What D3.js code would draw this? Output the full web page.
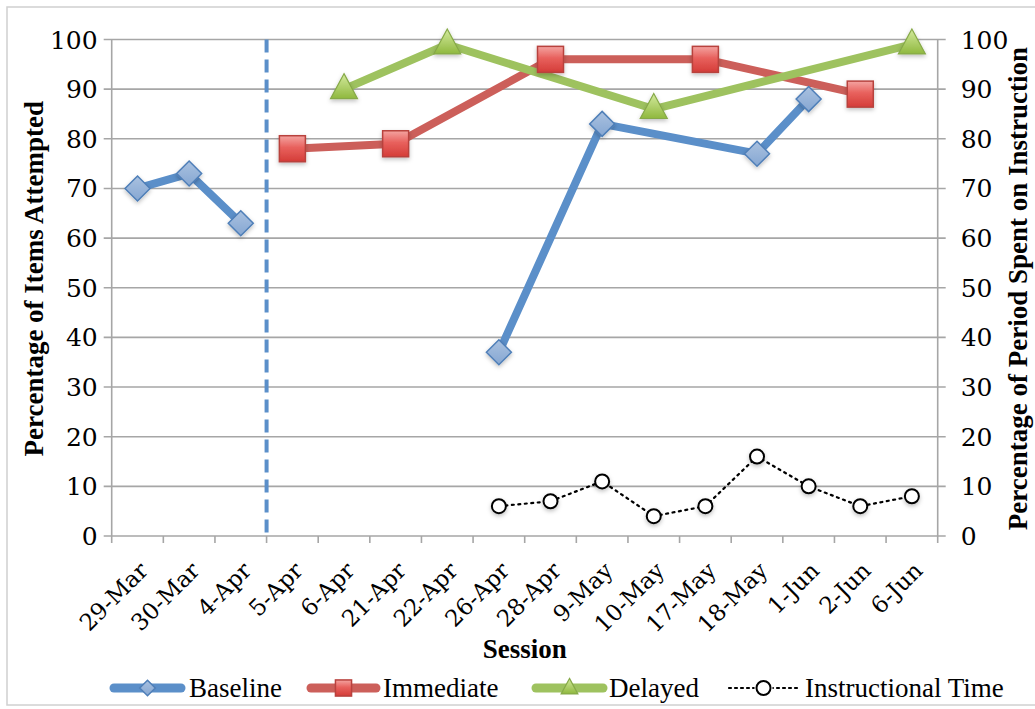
<!DOCTYPE html>
<html><head><meta charset="utf-8">
<script src="https://cdn.jsdelivr.net/npm/d3@7"></script>
<style>
html,body{margin:0;padding:0;background:#fff;}
svg{display:block;}
</style></head>
<body>
<svg id="chart" width="1035" height="709"></svg>
<script>
const categories = ["29-Mar","30-Mar","4-Apr","5-Apr","6-Apr","21-Apr","22-Apr","26-Apr","28-Apr","9-May","10-May","17-May","18-May","1-Jun","2-Jun","6-Jun"];
const baseline      = [70, 73, 63, null, null, null, null, 37, null, 83, null, null, 77, 88, null, null];
const immediate     = [null, null, null, 78, null, 79, null, null, 96, null, null, 96, null, null, 89, null];
const delayed       = [null, null, null, null, 90, null, 99, null, null, null, 86, null, null, null, null, 99];
const instructional = [null, null, null, null, null, null, null, 6, 7, 11, 4, 6, 16, 10, 6, 8];
const phaseBreakAfter = "4-Apr";
const yTicks = [0,10,20,30,40,50,60,70,80,90,100];
const seriesNames = ["Baseline","Immediate","Delayed","Instructional Time"];

const svg = d3.select("#chart");
const L = 111.7, R = 937.7, T = 39.5, B = 536;
const x = d3.scaleBand().domain(categories).range([L, R]).padding(0);
const y = d3.scaleLinear().domain([0,100]).range([B, T]);
const y2 = d3.scaleLinear().domain([0,100]).range([B, T]);
const cx = c => x(c) + x.bandwidth()/2;
const grid = "#a6a6a6";
const serif = "'Liberation Serif', 'DejaVu Serif', serif";
const numFont = "'DejaVu Serif', serif";

// defs
const defs = svg.append("defs");
const gRed = defs.append("linearGradient").attr("id","gRed").attr("x1",0).attr("y1",0).attr("x2",0).attr("y2",1);
gRed.append("stop").attr("offset","0%").attr("stop-color","#f4a4a1");
gRed.append("stop").attr("offset","45%").attr("stop-color","#e8615d");
gRed.append("stop").attr("offset","100%").attr("stop-color","#d43c38");
const gGreen = defs.append("linearGradient").attr("id","gGreen").attr("x1",0).attr("y1",0).attr("x2",0).attr("y2",1);
gGreen.append("stop").attr("offset","0%").attr("stop-color","#d4ea9e");
gGreen.append("stop").attr("offset","100%").attr("stop-color","#8fb83e");
const gBlue = defs.append("linearGradient").attr("id","gBlue").attr("x1",0).attr("y1",0).attr("x2",0).attr("y2",1);
gBlue.append("stop").attr("offset","0%").attr("stop-color","#a9c1e0");
gBlue.append("stop").attr("offset","100%").attr("stop-color","#86a7d2");
const sh = defs.append("filter").attr("id","shadow").attr("x","-50%").attr("y","-50%").attr("width","200%").attr("height","200%");
sh.append("feDropShadow").attr("dx",0).attr("dy",2).attr("stdDeviation",2).attr("flood-color","#000").attr("flood-opacity",0.25);

// frame
svg.append("rect").attr("x",7).attr("y",7).attr("width",1040).attr("height",698)
  .attr("fill","none").attr("stroke","#d0d0d0").attr("stroke-width",1.5);

// gridlines
svg.append("g").selectAll("line").data(yTicks).join("line")
  .attr("x1", L-8).attr("x2", R+8).attr("y1", d=>y(d)).attr("y2", d=>y(d))
  .attr("stroke", grid).attr("stroke-width", 1.6);

// axes lines
svg.append("line").attr("x1",L).attr("x2",L).attr("y1",T).attr("y2",B).attr("stroke",grid).attr("stroke-width",1.6);
svg.append("line").attr("x1",R).attr("x2",R).attr("y1",T).attr("y2",B).attr("stroke",grid).attr("stroke-width",1.6);
// x ticks at category boundaries
const bounds = categories.map(c => x(c)).concat([R]);
svg.append("g").selectAll("line").data(bounds).join("line")
  .attr("x1", d=>d).attr("x2", d=>d).attr("y1", B).attr("y2", B+7)
  .attr("stroke", grid).attr("stroke-width", 1.6);

// y tick labels
svg.append("g").selectAll("text").data(yTicks).join("text")
  .attr("x", L-14).attr("y", d=>y(d)).attr("dy","0.36em")
  .attr("text-anchor","end").attr("font-family",numFont).attr("font-size",25).attr("fill","#000")
  .text(d=>d);
svg.append("g").selectAll("text").data(yTicks).join("text")
  .attr("x", R+23).attr("y", d=>y2(d)).attr("dy","0.36em")
  .attr("text-anchor","start").attr("font-family",numFont).attr("font-size",25).attr("fill","#000")
  .text(d=>d);

// x tick labels
svg.append("g").selectAll("text").data(categories).join("text")
  .attr("transform", c => `translate(${cx(c)+12},${B+36}) rotate(-45)`)
  .attr("text-anchor","end").attr("font-family",numFont).attr("font-size",23).attr("fill","#000")
  .text(c=>c);

// axis titles
svg.append("text").attr("transform",`translate(43,${(T+B)/2-9}) rotate(-90)`)
  .attr("text-anchor","middle").attr("font-family",serif).attr("font-weight","bold").attr("font-size",27)
  .text("Percentage of Items Attempted");
svg.append("text").attr("transform",`translate(1027,47) rotate(-90)`)
  .attr("text-anchor","end").attr("font-family",serif).attr("font-weight","bold").attr("font-size",27)
  .text("Percentage of Period Spent on Instruction");
svg.append("text").attr("x",(L+R)/2).attr("y",658)
  .attr("text-anchor","middle").attr("font-family",serif).attr("font-weight","bold").attr("font-size",27)
  .text("Session");

// phase change line
const phaseX = x(phaseBreakAfter) + x.bandwidth();
svg.append("line").attr("x1",phaseX).attr("x2",phaseX).attr("y1",T).attr("y2",B+1)
  .attr("stroke","#5b8fc9").attr("stroke-width",4).attr("stroke-dasharray","13,7");

// helpers
const phaseIdx = categories.indexOf(phaseBreakAfter);
function segments(vals, splitPhase){
  const pts = categories.map((c,i)=>({c,i,v:vals[i]})).filter(d=>d.v!=null);
  if(!splitPhase) return [pts];
  return [pts.filter(d=>d.i<=phaseIdx), pts.filter(d=>d.i>phaseIdx)].filter(s=>s.length);
}
const line = (ys) => d3.line().x(d=>cx(d.c)).y(d=>ys(d.v));

function diamondPath(s){ const p=d3.path(); p.moveTo(0,-s); p.lineTo(s,0); p.lineTo(0,s); p.lineTo(-s,0); p.closePath(); return p.toString(); }
function trianglePath(w,h){ const p=d3.path(); p.moveTo(0,-h*0.62); p.lineTo(w/2,h*0.38); p.lineTo(-w/2,h*0.38); p.closePath(); return p.toString(); }

const specs = [
  {vals: baseline, color:"#5b8fc9", width:8, split:true, marker:"diamond"},
  {vals: immediate, color:"#cc5f5a", width:8, split:true, marker:"square"},
  {vals: delayed, color:"#9ec25f", width:8, split:true, marker:"triangle"},
];

function drawMarker(g, type, big){
  const k = big ? 1 : 0.62;
  if(type==="diamond") g.append("path").attr("d",diamondPath(12.5*k)).attr("fill","url(#gBlue)").attr("stroke","#4f7fb8").attr("stroke-width",1.5);
  if(type==="square") g.append("rect").attr("x",-13*k).attr("y",-13*k).attr("width",26*k).attr("height",26*k).attr("fill","url(#gRed)").attr("stroke","#b8423e").attr("stroke-width",1.5);
  if(type==="triangle") g.append("path").attr("d",trianglePath(27*k,25*k)).attr("fill","url(#gGreen)").attr("stroke","#86a948").attr("stroke-width",1.2);
  if(type==="circle") g.append("circle").attr("r",7).attr("fill","#fff").attr("stroke","#000").attr("stroke-width",2);
}

// instructional time (secondary)
const instSeg = segments(instructional,false);
instSeg.forEach(s=>{
  svg.append("path").datum(s).attr("d",line(y2)).attr("fill","none").attr("stroke","#000")
    .attr("stroke-width",2.2).attr("stroke-dasharray","2,4.5").attr("stroke-linecap","round");
});

specs.forEach(sp=>{
  segments(sp.vals, sp.split).forEach(s=>{
    svg.append("path").datum(s).attr("d",line(y)).attr("fill","none").attr("stroke",sp.color)
      .attr("stroke-width",sp.width).attr("stroke-linejoin","round");
  });
});
specs.forEach(sp=>{
  segments(sp.vals,false)[0].forEach(d=>{
    const g = svg.append("g").attr("transform",`translate(${cx(d.c)},${y(d.v)})`).attr("filter","url(#shadow)");
    drawMarker(g, sp.marker, true);
  });
});
instSeg[0].forEach(d=>{
  const g = svg.append("g").attr("transform",`translate(${cx(d.c)},${y2(d.v)})`).attr("filter","url(#shadow)");
  drawMarker(g,"circle",true);
});

// legend
const legendItems = [
  {name: seriesNames[0], x0:110, x1:185, color:"#5b8fc9", marker:"diamond", tx:189},
  {name: seriesNames[1], x0:307, x1:380, color:"#cc5f5a", marker:"square", tx:383},
  {name: seriesNames[2], x0:532, x1:607, color:"#9ec25f", marker:"triangle", tx:609},
  {name: seriesNames[3], x0:729, x1:798, color:"#000", marker:"circle", tx:805, dotted:true},
];
const ly = 688;
legendItems.forEach(it=>{
  const g = svg.append("g");
  if(it.dotted){
    g.append("line").attr("x1",it.x0).attr("x2",it.x1).attr("y1",ly).attr("y2",ly)
      .attr("stroke","#000").attr("stroke-width",2.2).attr("stroke-dasharray","2,4").attr("stroke-linecap","round");
  } else {
    g.append("line").attr("x1",it.x0+4).attr("x2",it.x1-4).attr("y1",ly).attr("y2",ly)
      .attr("stroke",it.color).attr("stroke-width",9).attr("stroke-linecap","round");
  }
  const m = g.append("g").attr("transform",`translate(${(it.x0+it.x1)/2},${ly})`);
  if(it.dotted) m.append("rect").attr("x",-9).attr("y",-9).attr("width",18).attr("height",18).attr("fill","#fff");
  drawMarker(m, it.marker, it.marker==="circle");
  g.append("text").attr("x",it.tx).attr("y",ly+9).attr("font-family",serif).attr("font-size",27).attr("fill","#000").text(it.name);
});
</script>
</body></html>
